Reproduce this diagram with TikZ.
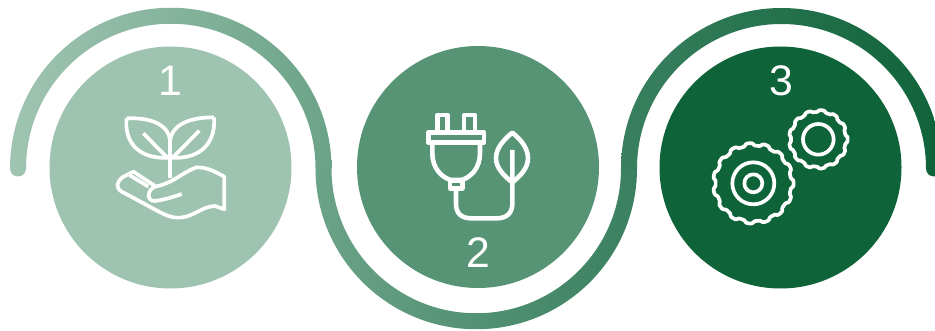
\documentclass[tikz,border=0pt]{standalone}
\usepackage{xcolor}
\usepackage{fontspec}
\setmainfont{Liberation Sans}
\definecolor{discA}{HTML}{9FC3B1}
\definecolor{discB}{HTML}{569475}
\definecolor{discC}{HTML}{0F6339}
\definecolor{bandA}{HTML}{A0C4B2}
\definecolor{bandB}{HTML}{6BA388}
\definecolor{bandC}{HTML}{3A8060}
\usetikzlibrary{arrows.meta, positioning}

\begin{document}
\begin{tikzpicture}[
  x=1pt, y=1pt,
  disc/.style={circle, minimum size=242pt, inner sep=0pt, outer sep=0pt},
  num/.style={text=white, font=\fontsize{42.7}{42.7}\selectfont, inner sep=0pt},
  icon/.style={draw=white, line width=3.7pt, line join=round},
  plugline/.style={icon, line width=4.6pt},
  iconline/.style={x=0.3333pt, y=-0.3333pt}
]
  \path[use as bounding box, clip] (0,0) rectangle (935,330);

  \shade[left color=bandA, right color=bandB] (10,161.5) arc[start angle=180, end angle=0, radius=160.75]
    -- ++(0,-0.5) -- ++(-16,0) -- ++(0,0.5)
    arc[start angle=0, end angle=180, radius=144.75] arc[start angle=0, end angle=-180, radius=8] -- cycle;
  \shade[left color=bandB, right color=bandC] (315.5,161.5) arc[start angle=180, end angle=360, radius=160.75]
    -- ++(0,0.5) -- ++(-16,0) -- ++(0,-0.5)
    arc[start angle=360, end angle=180, radius=144.75] -- cycle;
  \shade[left color=bandC, right color=discC] (621,161.5) arc[start angle=180, end angle=0, radius=160.5]
    -- ++(-16,0) arc[start angle=0, end angle=180, radius=144.5] -- cycle;
  \fill[discC] (934,161.5) circle[radius=8];

  \node[disc, fill=discA] (discone)   at (170.5,162.5) {};
  \node[disc, fill=discB] (disctwo)   at (478,163) {};
  \node[disc, fill=discC] (discthree) at (780.5,162.5) {};

  \node[num] (numone)   at (170,249) {1};
  \node[num] (numtwo)   at (478,77)  {2};
  \node[num] (numthree) at (781,249) {3};

  \begin{scope}[shift={(90pt,270pt)}, iconline]
    \draw[icon] (110,175) .. controls (175,172) and (238,190) .. (240,245);
    \draw[icon] (110,175) .. controls (102,240) and (140,300) .. (240,293);
    \draw[icon] (372,172) .. controls (305,172) and (245,190) .. (240,245);
    \draw[icon] (372,172) .. controls (378,240) and (340,300) .. (240,293);
    \draw[icon] (240,245) -- (240,355);
    \draw[icon] (160,220) -- (232,293);
    \draw[icon] (328,212) -- (248,293);
    \draw[icon] (275,402) .. controls (240,415) and (215,420) .. (195,423)
      .. controls (170,425) and (170,390) .. (195,380)
      .. controls (250,370) and (280,335) .. (320,322)
      .. controls (350,322) and (370,332) .. (403,350)
      -- (403,448) -- (375,438)
      .. controls (330,440) and (310,475) .. (260,473)
      .. controls (225,470) and (210,455) .. (95,395)
      .. controls (75,382) and (80,365) .. (100,350)
      -- (130,335) -- (195,378);
    \draw[icon] (118,345) -- (175,380);
  \end{scope}

  \begin{scope}[shift={(400pt,240pt)}, iconline]
    \draw[plugline] (112,125) -- (112,75) -- (143,75) -- (143,125);
    \draw[plugline] (192,125) -- (192,75) -- (225,75) -- (225,125);
    \draw[plugline] (85,127) rectangle (252,158);
    \draw[plugline] (97,158) -- (97,190) .. controls (97,235) and (125,262) .. (152,270)
      -- (185,270) .. controls (212,262) and (240,235) .. (240,190) -- (240,158);
    \draw[plugline] (150,272) rectangle (187,295);
    \draw[plugline] (168,295) -- (168,340) .. controls (168,372) and (185,385) .. (215,385)
      -- (290,385) .. controls (322,385) and (337,368) .. (337,340) -- (337,180);
    \draw[plugline] (337,128) .. controls (310,150) and (288,175) .. (288,205)
      .. controls (288,235) and (315,260) .. (337,277)
      .. controls (359,260) and (384,235) .. (384,205)
      .. controls (384,175) and (364,150) .. (337,128) -- cycle;
  \end{scope}

  \begin{scope}[shift={(700pt,270pt)}, iconline]
    \draw[icon] plot[domain=0:360, samples=360] ({355+(85+3*tanh(2*cos(13*\x)))*cos(\x)}, {238+(85+3*tanh(2*cos(13*\x)))*sin(\x)}) -- cycle;
    \draw[icon] (355,238) circle[radius=46];
    \draw[icon] plot[domain=0:360, samples=360] ({160+(117+4*tanh(2*cos(15*\x)))*cos(\x)}, {370+(117+4*tanh(2*cos(15*\x)))*sin(\x)}) -- cycle;
    \draw[icon] (160,370) circle[radius=63];
    \draw[icon] (160,370) circle[radius=27];
  \end{scope}
\end{tikzpicture}
\end{document}
